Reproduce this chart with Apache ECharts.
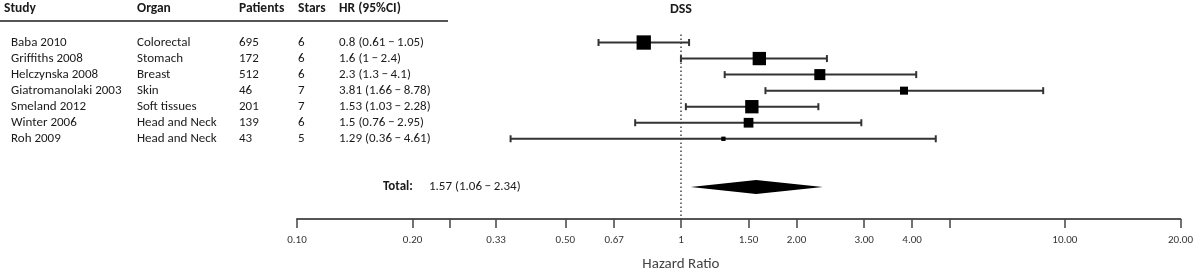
<!DOCTYPE html>
<html>
<head>
<meta charset="utf-8">
<script src="https://cdn.jsdelivr.net/npm/echarts@6/dist/echarts.min.js"></script>
<style>
  html, body { margin: 0; padding: 0; background: #fff; }
  #chart { width: 1196px; height: 271px; }
</style>
</head>
<body>
<div id="chart"></div>
<script>
let studies = ['Baba 2010', 'Griffiths 2008', 'Helczynska 2008', 'Giatromanolaki 2003', 'Smeland 2012', 'Winter 2006', 'Roh 2009'];
let organs = ['Colorectal', 'Stomach', 'Breast', 'Skin', 'Soft tissues', 'Head and Neck', 'Head and Neck'];
let patients = [695, 172, 512, 46, 201, 139, 43];
let stars = [6, 6, 6, 7, 7, 6, 5];
let hr = [0.8, 1.6, 2.3, 3.81, 1.53, 1.5, 1.29];
let lower = [0.61, 1, 1.3, 1.66, 1.03, 0.76, 0.36];
let upper = [1.05, 2.4, 4.1, 8.78, 2.28, 2.95, 4.61];
// relative study weights (%)
let weights = [23.9, 20.7, 14.2, 7.5, 20.7, 11.0, 2.2];
let totalHr = [1.06, 1.57, 2.34]; // lower, estimate, upper
let totalRow = 9;
let tickValues = [0.1, 0.2, 0.25, 0.33, 0.5, 0.67, 1, 1.5, 2, 3, 4, 5, 10, 20];
let labelValues = [0.1, 0.2, 0.33, 0.5, 0.67, 1, 1.5, 2, 3, 4, 10, 20];
let headers = ['Study', 'Organ', 'Patients', 'Stars', 'HR (95%CI)'];

let FONT = 'Carlito, Lato, "Open Sans", sans-serif';
let TEXT_COLOR = '#1a1a1a';
let colX = [11, 137, 239, 298, 339];

let chartDom = document.getElementById('chart');
let myChart = echarts.init(chartDom, null, { renderer: 'canvas' });

let ciText = function (est, lo, hi) {
    return est + ' (' + lo + '\u2009\u2212\u2009' + hi + ')';
};

let option = {
    animation: false,
    grid: { left: 297, right: 15, top: 34.5, bottom: 52 },
    xAxis: {
        type: 'log',
        logBase: 10,
        min: 0.1,
        max: 20,
        axisLine: { onZero: false, lineStyle: { color: '#555', width: 2 } },
        axisTick: {
            customValues: tickValues,
            length: 9,
            lineStyle: { color: '#444', width: 1.5 }
        },
        minorTick: { show: false },
        splitLine: { show: false },
        axisLabel: {
            customValues: labelValues,
            margin: 16,
            fontFamily: FONT,
            fontSize: 11,
            color: '#333',
            formatter: function (v) {
                return Math.abs(v - 1) < 1e-9 ? '1' : (+v).toFixed(2);
            }
        }
    },
    yAxis: {
        type: 'value',
        inverse: true,
        min: -0.5,
        max: 11,
        show: false
    },
    series: [
        {
            // table rows on the left
            type: 'custom',
            clip: false,
            silent: true,
            data: studies.map((s, i) => [0.1, i]),
            encode: { x: 0, y: 1 },
            renderItem: function (params, api) {
                let i = params.dataIndex;
                let y = api.coord([0.1, api.value(1)])[1];
                let cells = [studies[i], organs[i], String(patients[i]), String(stars[i]), ciText(hr[i], lower[i], upper[i])];
                return {
                    type: 'group',
                    children: cells.map((t, c) => ({
                        type: 'text',
                        x: colX[c],
                        y: y,
                        style: { text: t, font: '13px ' + FONT, fill: TEXT_COLOR, align: 'left', verticalAlign: 'middle' }
                    }))
                };
            },
            z: 5
        },
        {
            // total row text
            type: 'custom',
            clip: false,
            silent: true,
            data: [[0.1, totalRow]],
            encode: { x: 0, y: 1 },
            renderItem: function (params, api) {
                let y = api.coord([0.1, api.value(1)])[1];
                return {
                    type: 'group',
                    children: [
                        { type: 'text', x: 383, y: y, style: { text: 'Total:', font: 'bold 13px ' + FONT, fill: TEXT_COLOR, verticalAlign: 'middle' } },
                        { type: 'text', x: 429, y: y, style: { text: ciText(totalHr[1], totalHr[0], totalHr[2]), font: '13px ' + FONT, fill: TEXT_COLOR, verticalAlign: 'middle' } }
                    ]
                };
            }
        },
        {
            // confidence intervals
            type: 'custom',
            clip: false,
            silent: true,
            data: hr.map((v, i) => [lower[i], upper[i], i]),
            encode: { x: [0, 1], y: 2 },
            renderItem: function (params, api) {
                let p1 = api.coord([api.value(0), api.value(2)]);
                let p2 = api.coord([api.value(1), api.value(2)]);
                let style = { stroke: '#333', lineWidth: 2 };
                let cap = 3.5;
                return {
                    type: 'group',
                    children: [
                        { type: 'line', shape: { x1: p1[0], y1: p1[1], x2: p2[0], y2: p2[1] }, style: style },
                        { type: 'line', shape: { x1: p1[0], y1: p1[1] - cap, x2: p1[0], y2: p1[1] + cap }, style: style },
                        { type: 'line', shape: { x1: p2[0], y1: p2[1] - cap, x2: p2[0], y2: p2[1] + cap }, style: style }
                    ]
                };
            },
            z: 2
        },
        {
            // point estimates
            type: 'scatter',
            symbol: 'rect',
            silent: true,
            data: hr.map((v, i) => [v, i]),
            symbolSize: function (val, params) {
                return Math.sqrt(weights[params.dataIndex]) * 2.93;
            },
            itemStyle: { color: '#000', opacity: 1 },
            z: 3,
            markLine: {
                silent: true,
                symbol: ['none', 'none'],
                label: { show: false },
                lineStyle: { type: [1.5, 2.5], color: '#444', width: 1.5 },
                data: [{ xAxis: 1 }]
            }
        },
        {
            // pooled estimate diamond
            type: 'custom',
            clip: false,
            silent: true,
            data: [[totalHr[0], totalHr[1], totalHr[2], totalRow]],
            encode: { x: [0, 1, 2], y: 3 },
            renderItem: function (params, api) {
                let l = api.coord([api.value(0), api.value(3)]);
                let m = api.coord([api.value(1), api.value(3)]);
                let r = api.coord([api.value(2), api.value(3)]);
                let h = 7;
                return {
                    type: 'polygon',
                    shape: { points: [[l[0], l[1]], [m[0], m[1] - h], [r[0], r[1]], [m[0], m[1] + h]] },
                    style: { fill: '#000' }
                };
            },
            z: 3
        }
    ]
};

myChart.setOption(option);

// header, title and axis name placed around the HR = 1 reference line
let refX = myChart.convertToPixel({ xAxisIndex: 0 }, 1);
let graphics = headers.map((h, c) => ({
    type: 'text',
    left: colX[c] - (c === 0 ? 7 : 0),
    top: 2,
    style: { text: h, font: 'bold 13.5px ' + FONT, fill: TEXT_COLOR }
}));
graphics.push({
    type: 'line',
    shape: { x1: 0, y1: 21, x2: 448, y2: 21 },
    style: { stroke: '#555', lineWidth: 2 }
});
graphics.push({
    type: 'text',
    x: refX,
    y: 9,
    style: { text: 'DSS', font: 'bold 14px ' + FONT, fill: TEXT_COLOR, align: 'center', verticalAlign: 'middle' }
});
graphics.push({
    type: 'text',
    x: refX,
    y: 264,
    style: { text: 'Hazard Ratio', font: '15px ' + FONT, fill: '#444', align: 'center', verticalAlign: 'middle' }
});
myChart.setOption({ graphic: graphics });
</script>
</body>
</html>
